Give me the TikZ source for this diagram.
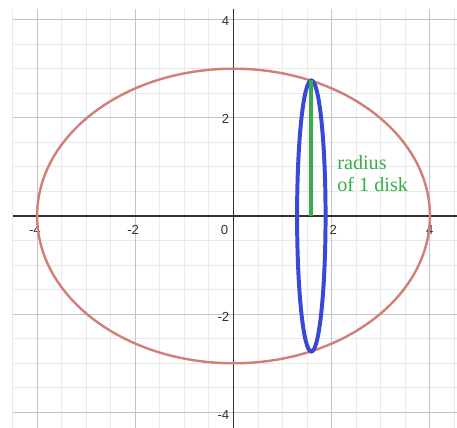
\documentclass[tikz,border=0pt]{standalone}
\usepackage{fontspec}
\setmainfont{Liberation Serif}
\newfontfamily\labfont{Liberation Sans}
\definecolor{minorgrid}{RGB}{234,234,234}
\definecolor{majorgrid}{RGB}{196,196,196}
\definecolor{axiscol}{RGB}{50,50,50}
\definecolor{ellred}{RGB}{212,126,120}
\definecolor{diskblue}{RGB}{58,72,214}
\definecolor{radgreen}{RGB}{56,172,74}
\tikzset{
  minorline/.style={draw=minorgrid, line width=0.6pt},
  majorline/.style={draw=majorgrid, line width=0.6pt},
  axisline/.style={draw=axiscol, line width=0.9pt},
  ticklab/.style={font=\labfont\fontsize{7.6}{8}\selectfont, text=black!80, inner sep=0pt},
  greentext/.style={font=\fontsize{11.7}{12.5}\selectfont, text=radgreen, inner sep=0pt, anchor=base west}
}
\begin{document}
\begin{tikzpicture}[x=1cm,y=1cm]
\useasboundingbox (-4.7556,-4.3177) rectangle (4.552,4.3992);
\fill[white] (-4.7556,-4.3177) rectangle (4.552,4.3992);
% minor grid
\foreach \x in {-4.5,-3.5,-3,-2.5,-1.5,-1,-0.5,0.5,1,1.5,2.5,3,3.5,4.5}
  \draw[minorline] (\x,4.22) -- (\x,-4.3177);
\foreach \y in {3.5,3,2.5,1.5,1,0.5,-0.5,-1,-1.5,-2.5,-3,-3.5}
  \draw[minorline] (-4.5,\y) -- (4.552,\y);
% major grid
\foreach \x in {-4,-2,2,4}
  \draw[majorline] (\x,4.22) -- (\x,-4.3177);
\foreach \y in {4,2,-2,-4}
  \draw[majorline] (-4.5,\y) -- (4.552,\y);
% axes
\coordinate (xl) at (-4.5,0);
\coordinate (xr) at (4.552,0);
\coordinate (yt) at (0,4.22);
\coordinate (yb) at (0,-4.3177);
\draw[axisline] (xl) -- (xr);
\draw[axisline] (yt) -- (yb);
% tick labels
\node[ticklab] (xm4) at (-4,-0.29) {\llap{-}4};
\node[ticklab] (xm2) at (-2,-0.29) {\llap{-}2};
\node[ticklab] (xp2) at (2.03,-0.29) {2};
\node[ticklab] (xp4) at (4.0,-0.29) {4};
\node[ticklab, anchor=east] (y0) at (-0.1,-0.29) {0};
\node[ticklab, anchor=east] (yp4) at (-0.08,3.98) {4};
\node[ticklab, anchor=east] (yp2) at (-0.08,1.98) {2};
\node[ticklab, anchor=east] (ym2) at (-0.08,-2.05) {-2};
\node[ticklab, anchor=east] (ym4) at (-0.08,-4.05) {-4};
% big ellipse
\coordinate (c0) at (0,0);
\draw[ellred, line width=1.4pt] (c0) ellipse [x radius=4, y radius=3];
% disk ellipse
\coordinate (dc) at (1.585,0);
\draw[diskblue, line width=2.3pt] (dc) ellipse [x radius=0.29, y radius=2.76];
% radius line
\coordinate (rbase) at (1.58,0);
\coordinate (rtop) at (1.58,2.77);
\draw[radgreen, line width=1.9pt] (rbase) -- (rtop);
% label
\node[greentext] (lab1) at (2.108,0.937) {radius};
\node[greentext] (lab2) at (2.108,0.495) {of 1 disk};
\end{tikzpicture}
\end{document}
